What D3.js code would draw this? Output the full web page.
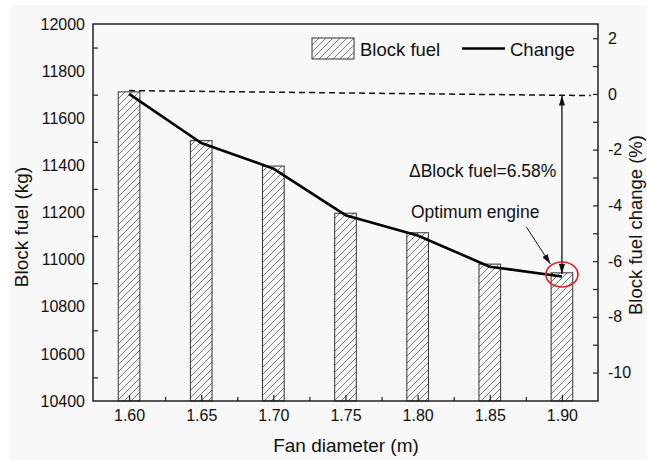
<!DOCTYPE html>
<html>
<head>
<meta charset="utf-8">
<script src="https://cdnjs.cloudflare.com/ajax/libs/d3/7.8.5/d3.min.js"></script>
<style>
  body { margin: 0; background: #fff; }
  svg { display: block; font-family: "Liberation Sans", Arial, sans-serif; }
</style>
</head>
<body>
<div id="chart"></div>
<script>
// data
const fanDiameter = [1.60, 1.65, 1.70, 1.75, 1.80, 1.85, 1.90];
const blockFuel = [11712, 11505, 11397, 11197, 11114, 10981, 10944];
const fuelChange = [0, -1.76, -2.68, -4.35, -5.08, -6.2, -6.55];

const xTickValues = [1.60, 1.65, 1.70, 1.75, 1.80, 1.85, 1.90];
const xMinorTicks = [1.625, 1.675, 1.725, 1.775, 1.825, 1.875];
const leftTickValues = [10400, 10600, 10800, 11000, 11200, 11400, 11600, 11800, 12000];
const leftMinorTicks = [10500, 10700, 10900, 11100, 11300, 11500, 11700, 11900];
const rightTickValues = [-10, -8, -6, -4, -2, 0, 2];
const rightMinorTicks = [-9, -7, -5, -3, -1, 1];

// annotations (data coords: fan diameter, change %)
const dashedRef = [[1.60, 0.12], [1.92, -0.06]];
const deltaArrow = [[1.90, -0.06], [1.90, -6.46]];
const pointerArrow = [[1.8754, -4.78], [1.892, -6.10]];
const optimum = [1.90, -6.48];
const deltaLabel = { x: 1.794, y: -2.98, text: "\u0394Block fuel=6.58%" };
const optimumLabel = { x: 1.7954, y: -4.45, text: "Optimum engine" };

const W = 647, H = 460;
const plot = { left: 93, top: 24, right: 598, bottom: 401 };

const svg = d3.select("#chart").append("svg")
  .attr("width", W).attr("height", H);

svg.append("rect").attr("x", 10).attr("y", 5)
  .attr("width", W - 10).attr("height", H - 5).attr("fill", "#f8f8f8");

const defs = svg.append("defs");
const hatch = defs.append("pattern")
  .attr("id", "hatch").attr("patternUnits", "userSpaceOnUse")
  .attr("width", 7).attr("height", 7);
hatch.append("path")
  .attr("d", "M-1,1 l2,-2 M0,7 l7,-7 M6,8 l2,-2")
  .attr("stroke", "#555").attr("stroke-width", 0.8);

defs.append("marker")
  .attr("id", "arrowHead").attr("markerUnits", "userSpaceOnUse")
  .attr("viewBox", "0 0 10 6").attr("refX", 10).attr("refY", 3)
  .attr("markerWidth", 10).attr("markerHeight", 6)
  .attr("orient", "auto-start-reverse")
  .append("path").attr("d", "M0,0 L10,3 L0,6 Z").attr("fill", "#111");

const x = d3.scaleLinear().domain([1.575, 1.925]).range([plot.left, plot.right]);
const y = d3.scaleLinear().domain([10400, 12000]).range([plot.bottom, plot.top]);
const yR = d3.scaleLinear().domain([-11.02, 2.51]).range([plot.bottom, plot.top]);

const barHalf = 0.0075;

// bars
svg.append("g").selectAll("rect")
  .data(fanDiameter)
  .join("rect")
  .attr("x", (d) => x(d - barHalf))
  .attr("width", (d) => x(d + barHalf) - x(d - barHalf))
  .attr("y", (d, i) => y(blockFuel[i]))
  .attr("height", (d, i) => y(10400) - y(blockFuel[i]))
  .attr("fill", "url(#hatch)")
  .attr("stroke", "#333").attr("stroke-width", 1);

// axes
function styleAxis(g) {
  g.select(".domain").remove();
  g.selectAll("line").attr("stroke", "#222").attr("stroke-width", 1.2);
  g.selectAll("text").attr("fill", "#111").style("font-size", "16px")
    .style("font-family", "'Liberation Sans', Arial, sans-serif");
}

svg.append("g").attr("transform", `translate(0,${plot.bottom})`)
  .call(d3.axisBottom(x).tickValues(xTickValues).tickSize(-6).tickPadding(9)
    .tickFormat(d3.format(".2f")))
  .call(styleAxis);
svg.append("g").attr("transform", `translate(0,${plot.bottom})`)
  .call(d3.axisBottom(x).tickValues(xMinorTicks).tickSize(-4).tickFormat(""))
  .call(styleAxis);

svg.append("g").attr("transform", `translate(${plot.left},0)`)
  .call(d3.axisLeft(y).tickValues(leftTickValues).tickSize(0).tickPadding(8)
    .tickFormat(d3.format("d")))
  .call(styleAxis);
svg.append("g").attr("transform", `translate(${plot.left},0)`)
  .call(d3.axisLeft(y).tickValues(leftMinorTicks).tickSize(-5).tickFormat(""))
  .call(styleAxis);

svg.append("g").attr("transform", `translate(${plot.right},0)`)
  .call(d3.axisRight(yR).tickValues(rightTickValues).tickSize(-5).tickPadding(10)
    .tickFormat((d) => String(d)))
  .call(styleAxis);
svg.append("g").attr("transform", `translate(${plot.right},0)`)
  .call(d3.axisRight(yR).tickValues(rightMinorTicks).tickSize(-5).tickFormat(""))
  .call(styleAxis);

// dashed reference line at 0 %
const lineGen = d3.line().x((d) => x(d[0])).y((d) => yR(d[1]));
svg.append("path").attr("d", lineGen(dashedRef))
  .attr("fill", "none").attr("stroke", "#111").attr("stroke-width", 1.5)
  .attr("stroke-dasharray", "6,4");

// change line
svg.append("path")
  .attr("d", lineGen(fanDiameter.map((d, i) => [d, fuelChange[i]])))
  .attr("fill", "none").attr("stroke", "#000").attr("stroke-width", 2.6)
  .attr("stroke-linejoin", "round");

// double arrow for the block fuel delta
svg.append("path").attr("d", lineGen(deltaArrow))
  .attr("stroke", "#111").attr("stroke-width", 1.3).attr("fill", "none")
  .attr("marker-start", "url(#arrowHead)").attr("marker-end", "url(#arrowHead)");

// pointer to the optimum engine
svg.append("path").attr("d", lineGen(pointerArrow))
  .attr("stroke", "#111").attr("stroke-width", 1).attr("fill", "none")
  .attr("marker-end", "url(#arrowHead)");

svg.append("ellipse")
  .attr("cx", x(optimum[0])).attr("cy", yR(optimum[1]))
  .attr("rx", 16).attr("ry", 12.5)
  .attr("fill", "none").attr("stroke", "#e0201c").attr("stroke-width", 1.6);

svg.selectAll("text.note")
  .data([deltaLabel, optimumLabel])
  .join("text").attr("class", "note")
  .attr("x", (d) => x(d.x)).attr("y", (d) => yR(d.y))
  .attr("fill", "#111").style("font-size", "17.5px")
  .text((d) => d.text);

// frame
svg.append("rect")
  .attr("x", plot.left).attr("y", plot.top)
  .attr("width", plot.right - plot.left).attr("height", plot.bottom - plot.top)
  .attr("fill", "none").attr("stroke", "#222").attr("stroke-width", 1.5);

// legend
const legend = svg.append("g").style("font-size", "18.5px").attr("fill", "#111");
legend.append("rect").attr("x", 312).attr("y", 38).attr("width", 42).attr("height", 21)
  .attr("fill", "url(#hatch)").attr("stroke", "#333").attr("stroke-width", 1);
legend.append("text").attr("x", 360).attr("y", 56).text("Block fuel");
legend.append("line").attr("x1", 462).attr("x2", 505).attr("y1", 48.5).attr("y2", 48.5)
  .attr("stroke", "#000").attr("stroke-width", 2.6);
legend.append("text").attr("x", 510).attr("y", 56).text("Change");

// axis titles
svg.append("text")
  .attr("transform", "translate(28,227) rotate(-90)")
  .attr("text-anchor", "middle").style("font-size", "19px").attr("fill", "#111")
  .text("Block fuel (kg)");
svg.append("text")
  .attr("transform", "translate(642,225) rotate(-90)")
  .attr("text-anchor", "middle").style("font-size", "18.5px").attr("fill", "#111")
  .text("Block fuel change (%)");
svg.append("text")
  .attr("x", 346).attr("y", 452)
  .attr("text-anchor", "middle").style("font-size", "19px").attr("fill", "#111")
  .text("Fan diameter (m)");
</script>
</body>
</html>
